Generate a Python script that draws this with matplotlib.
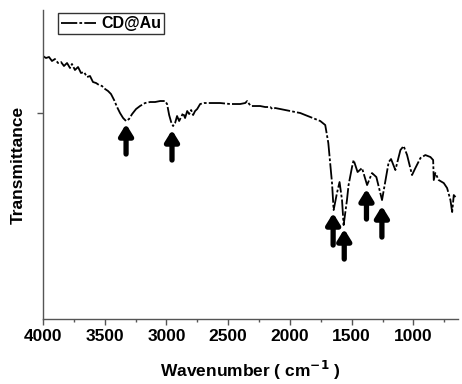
import matplotlib
matplotlib.use("Agg")
import matplotlib.pyplot as plt
from matplotlib.ticker import MultipleLocator

plt.rcParams["font.family"] = ["Liberation Sans", "DejaVu Sans"]
plt.rcParams["font.weight"] = "bold"

# FTIR spectrum (wavenumber, arbitrary transmittance)
wavenumber = [4000, 3976, 3951, 3927, 3903, 3878, 3854, 3830, 3805, 3781,
              3765, 3741, 3716, 3692, 3668, 3643, 3619, 3595, 3570, 3546,
              3522, 3497, 3473, 3449, 3424, 3400, 3376, 3351, 3327, 3303,
              3278, 3246, 3214, 3173, 3132, 3092, 3051, 3011, 2995, 2978,
              2962, 2946, 2930, 2914, 2897, 2881, 2865, 2849, 2832, 2816,
              2800, 2784, 2768, 2751, 2727, 2695, 2646, 2565, 2484, 2403,
              2362, 2346, 2330, 2314, 2281, 2241, 2200, 2159, 2143, 2119,
              2078, 2038, 1997, 1957, 1916, 1876, 1835, 1795, 1754, 1714,
              1689, 1659, 1646, 1619, 1598, 1578, 1565, 1538, 1525, 1497,
              1484, 1452, 1416, 1375, 1335, 1300, 1254, 1200, 1181, 1146,
              1105, 1079, 1051, 1011, 984, 943, 903, 862, 840, 835,
              822, 795, 754, 727, 700, 686, 673, 659]
transmittance = [263, 261, 262, 258, 260, 256, 257, 253, 256, 251,
                 255, 249, 252, 246, 247, 242, 243, 237, 236, 234,
                 233, 230, 228, 225, 219, 212, 206, 201, 198, 200,
                 205, 210, 213, 216, 217, 217, 218, 218, 215, 204,
                 197, 193, 196, 203, 198, 202, 206, 201, 208, 205,
                 209, 204, 208, 210, 215, 216, 216, 216, 215, 215,
                 216, 218, 215, 213, 213, 213, 212, 212, 210, 211,
                 210, 209, 208, 207, 206, 204, 202, 200, 198, 194,
                 176, 136, 109, 126, 137, 119, 94, 119, 134, 152,
                 159, 147, 151, 134, 146, 142, 119, 157, 160, 149,
                 169, 173, 164, 144, 151, 161, 164, 162, 159, 139,
                 146, 139, 136, 131, 119, 107, 124, 122]

# arrows marking absorption bands: position, tip, tail
arrow_wn = [3327, 2955, 1650, 1560, 1380, 1255]
arrow_tip = [195, 189, 106, 90, 130, 113]
arrow_tail = [165, 159, 74, 60, 100, 82]

fig = plt.figure(figsize=(4.62, 3.84), dpi=100)
ax = fig.add_axes([0.093, 0.169, 0.898, 0.805])

ax.plot(wavenumber, transmittance, color="black", lw=1.3,
        dashes=(9, 1.2, 1.5, 1.2), label="CD@Au")

for w, tip, tail in zip(arrow_wn, arrow_tip, arrow_tail):
    ax.annotate("", xy=(w, tip), xytext=(w, tail),
                arrowprops=dict(arrowstyle="-|>,head_width=0.4,head_length=0.65",
                                color="black", lw=3.8, shrinkA=0, shrinkB=0))

ax.set_xlim(4000, 640)
ax.set_ylim(0, 309)
ax.xaxis.set_major_locator(MultipleLocator(500))
ax.xaxis.set_minor_locator(MultipleLocator(250))
ax.set_yticks([206])
ax.set_yticklabels([])
ax.tick_params(axis="x", which="major", length=4, width=1, color="#555555",
               labelsize=12.5, pad=3)
ax.tick_params(axis="x", which="minor", length=2.5, width=1, color="#555555")
ax.tick_params(axis="y", length=4, width=1, color="#555555")
for lab in ax.get_xticklabels():
    lab.set_fontweight("bold")

for s in ["top", "right"]:
    ax.spines[s].set_visible(False)
for s in ["left", "bottom"]:
    ax.spines[s].set_color("#555555")
    ax.spines[s].set_linewidth(1)

ax.set_xlabel("Wavenumber ( cm$^{\\mathbf{-1}}$ )", fontsize=12.5,
              fontweight="bold", labelpad=11)
ax.set_ylabel("Transmittance", fontsize=12.5, fontweight="bold", labelpad=5)

leg = ax.legend(loc="upper left", bbox_to_anchor=(0.036, 0.99), borderaxespad=0,
                frameon=True, fancybox=False, fontsize=11.5, handlelength=2.2,
                borderpad=0.2, handletextpad=0.3)
leg.get_frame().set_edgecolor("black")
leg.get_frame().set_linewidth(1)
for t in leg.get_texts():
    t.set_fontweight("bold")

fig.savefig("out.png", dpi=100)
